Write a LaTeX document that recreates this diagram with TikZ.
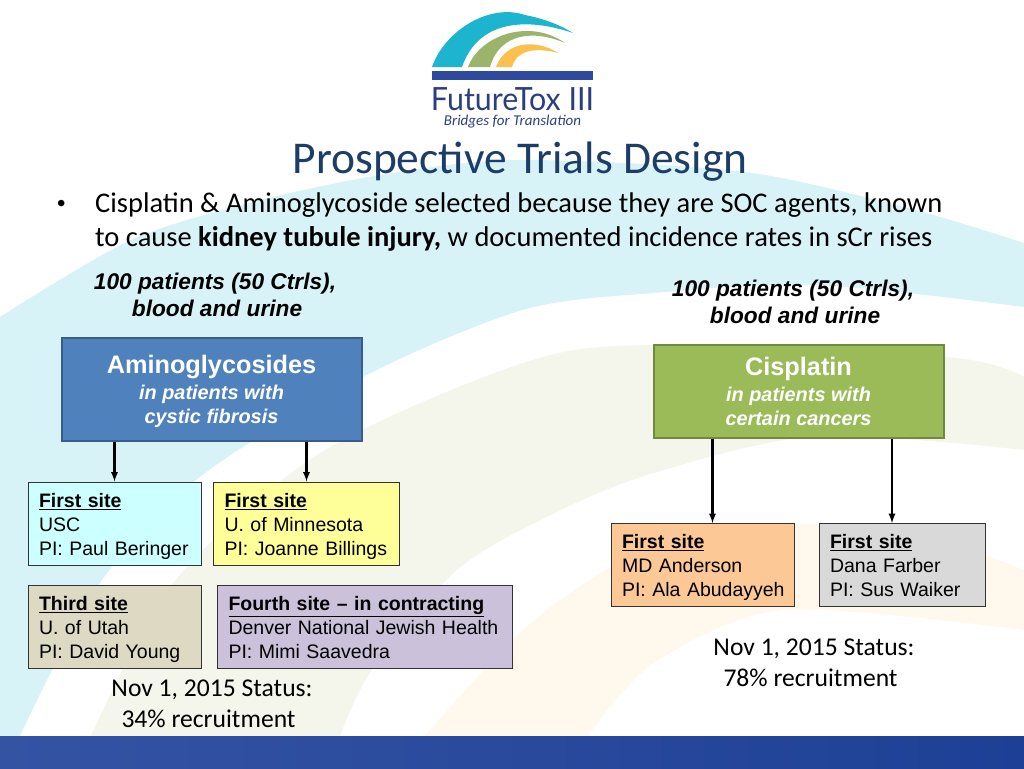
\documentclass[tikz,border=0pt]{standalone}
\usepackage{fontspec}
\setmainfont{Liberation Sans}
\newfontfamily\calibri{Carlito}
\newfontfamily\logofont{Lato}
\definecolor{bgcyan}{HTML}{D8F3F8}
\definecolor{bggreen}{HTML}{F4F6EC}
\definecolor{bgorange}{HTML}{FFF8EC}
\definecolor{logocyan}{HTML}{1DB4CF}
\definecolor{logogreen}{HTML}{9CB469}
\definecolor{logoorange}{HTML}{FCC04E}
\definecolor{logoblue}{HTML}{2B3F7E}
\definecolor{logobar}{HTML}{2E4A9E}
\definecolor{titleblue}{HTML}{1B3D68}
\definecolor{bandleft}{HTML}{3553A3}
\definecolor{bandright}{HTML}{1D4096}
\definecolor{aminofill}{HTML}{4F81BD}
\definecolor{aminoline}{HTML}{385D8A}
\definecolor{cisfill}{HTML}{9BBB59}
\definecolor{cisline}{HTML}{71893F}
\definecolor{uscfill}{HTML}{CCFFFF}
\definecolor{minnfill}{HTML}{FFFF99}
\definecolor{utahfill}{HTML}{DDD9C3}
\definecolor{denverfill}{HTML}{CCC1DA}
\definecolor{mdandfill}{HTML}{FCC895}
\definecolor{farberfill}{HTML}{D9D9D9}
\tikzset{
    sitebox/.style n args={3}{draw=black!80,line width=1pt,fill=#1,minimum width=#2pt,minimum height=#3pt,
        inner xsep=11pt,inner ysep=0pt,text width=#2pt-22pt,align=left,font=\fontsize{19.5}{24}\selectfont},
    drugbox/.style n args={4}{draw=#2,line width=2pt,fill=#1,minimum width=#3pt,minimum height=#4pt,
        inner sep=0pt,align=center,text=white,font=\fontsize{20}{24}\selectfont},
    countlabel/.style={align=center,inner sep=0pt,font=\fontsize{22.7}{27}\selectfont\bfseries\itshape},
    statuslabel/.style={align=center,inner sep=0pt,font=\calibri\fontsize{25.6}{31}\selectfont},
    bodyline/.style={anchor=base west,inner sep=0pt,font=\calibri\fontsize{28.5}{33}\selectfont},
    sitearrow/.style={line width=2.2pt,-latex}
}
\newcommand{\sitetext}[3]{\rule{0pt}{20.5pt}\underline{\textbf{#1}}\\\mbox{#2}\\\mbox{#3}\rule[-5pt]{0pt}{5pt}}
\newcommand{\drugtext}[4]{\rule{0pt}{#1pt}{\fontsize{25.3}{24}\selectfont\bfseries #2}\\[2pt]{\fontsize{19.9}{24}\selectfont\bfseries\itshape #3}\\{\fontsize{19.9}{24}\selectfont\bfseries\itshape #4}}
\begin{document}
\begin{tikzpicture}[x=1pt,y=-1pt]
    \useasboundingbox (0,0) rectangle (1024,768);
    \fill[bgcyan] plot[smooth] coordinates {(0,317) (131,240) (261,200) (392,173) (523,160) (745,172) (915,210) (1024,243)} -- (1024,736) -- (0,736) -- cycle;
    \fill[white] plot[smooth] coordinates {(20,736) (100,583) (200,477) (363,377) (523,310) (654,293) (817,285) (1024,307)} -- (1024,736) -- cycle;
    \fill[bggreen] plot[smooth] coordinates {(91,736) (173,583) (320,453) (523,363) (654,345) (948,357) (1024,377)} -- (1024,736) -- cycle;
    \fill[white] plot[smooth] coordinates {(340,736) (372,670) (457,570) (555,513) (654,473) (817,436) (1024,450)} -- (1024,736) -- cycle;
    \fill[bgorange] plot[smooth] coordinates {(425,736) (523,630) (620,563) (740,527) (900,530) (1024,570)} -- (1024,736) -- cycle;
    \fill[white] plot[smooth] coordinates {(588,736) (654,663) (784,610) (1024,630)} -- (1024,736) -- cycle;
    \shade[left color=bandleft,right color=bandright] (0,736) rectangle (1024,768);

    \fill[logocyan] (432,67) .. controls (445,30) and (490,3) .. (525,15) .. controls (545,19) and (560,25) .. (573,33) .. controls (535,20) and (480,15) .. (462,67) -- cycle;
    \fill[logogreen] (468,67) .. controls (480,35) and (530,18) .. (565,43) .. controls (535,30) and (500,32) .. (490,67) -- cycle;
    \fill[logoorange] (496,67) .. controls (505,42) and (535,38) .. (558,53) .. controls (535,47) and (517,50) .. (512,67) -- cycle;
    \fill[logobar] (432,71) rectangle (593,80);
    \node[anchor=base,inner sep=0pt,xscale=.95,text=logoblue,font=\logofont\fontsize{32}{32}\selectfont] (logoname) at (512.5,110) {FutureTox III};
    \node[anchor=base,inner sep=0pt,text=logoblue,font=\calibri\itshape\fontsize{15}{15}\selectfont] (logotag) at (512.5,125) {Bridges for Translation};

    \node[anchor=base,inner sep=0pt,text=titleblue,font=\calibri\fontsize{45.5}{46}\selectfont] (title) at (520,173) {Prospective Trials Design};
    \node[bodyline,font=\fontsize{24}{24}\selectfont] (bullet) at (57,211) {•};
    \node[bodyline] (bodya) at (95,212) {Cisplatin \& Aminoglycoside selected because they are SOC agents, known};
    \node[bodyline] (bodyb) at (95,246) {to cause \textbf{kidney tubule injury,} w documented incidence rates in sCr rises};

    \node[countlabel] (countamino) at (217,295) {100 patients (50 Ctrls),\hspace*{4pt}\\blood and urine};
    \node[countlabel] (countcis) at (795,302) {100 patients (50 Ctrls),\hspace*{4pt}\\blood and urine};

    \node[drugbox={aminofill}{aminoline}{300}{103}] (amino) at (211.5,389) {\drugtext{24}{Aminoglycosides}{in patients with}{cystic fibrosis}};
    \node[drugbox={cisfill}{cisline}{290}{93}] (cis) at (798.5,391) {\drugtext{20}{Cisplatin}{in patients with}{certain cancers}};

    \node[sitebox={uscfill}{173}{83}] (usc) at (114.5,523.5) {\sitetext{First site}{USC}{PI: Paul Beringer}};
    \node[sitebox={minnfill}{186}{83}] (minn) at (306.5,523.5) {\sitetext{First site}{U. of Minnesota}{PI: Joanne Billings}};
    \node[sitebox={utahfill}{173}{83}] (utah) at (114.5,626.5) {\sitetext{Third site}{U. of Utah}{PI: David Young}};
    \node[sitebox={denverfill}{295}{83}] (denver) at (365,626.5) {\sitetext{Fourth site – in contracting}{Denver National Jewish Health}{PI: Mimi Saavedra}};
    \node[sitebox={mdandfill}{183}{83}] (mdand) at (702.5,564.5) {\sitetext{First site}{MD Anderson}{PI: Ala Abudayyeh}};
    \node[sitebox={farberfill}{166}{83}] (farber) at (902,564.5) {\sitetext{First site}{Dana Farber}{PI: Sus Waiker}};

    \coordinate (mdtop) at (712.5,523);
    \coordinate (farbertop) at (892,523);
    \draw[sitearrow] (amino.south -| usc.north) -- (usc.north);
    \draw[sitearrow] (amino.south -| minn.north) -- (minn.north);
    \draw[sitearrow] (cis.south -| mdtop) -- (mdtop);
    \draw[sitearrow] (cis.south -| farbertop) -- (farbertop);

    \node[statuslabel] (statusamino) at (212,704) {Nov 1, 2015 Status:\\34\% recruitment\hspace*{7pt}};
    \node[statuslabel] (statuscis) at (814,663) {Nov 1, 2015 Status:\\78\% recruitment\hspace*{7pt}};
\end{tikzpicture}
\end{document}
